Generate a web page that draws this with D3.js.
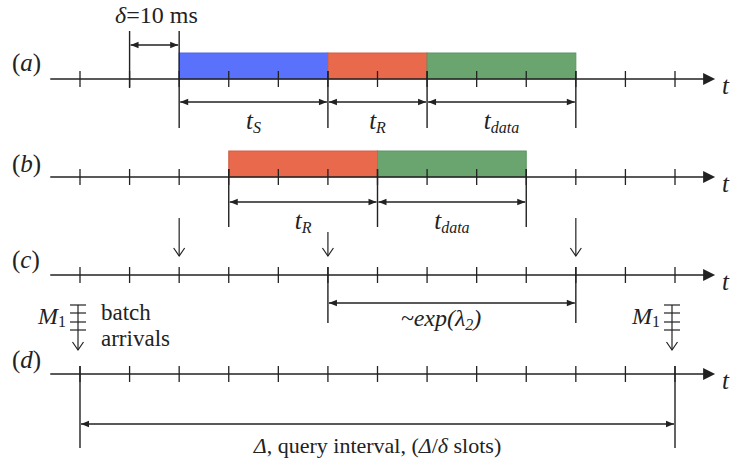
<!DOCTYPE html>
<html>
<head>
<meta charset="utf-8">
<script src="https://cdn.jsdelivr.net/npm/d3@7"></script>
<style>
  html, body { margin: 0; padding: 0; background: #fff; }
  svg { display: block; font-family: "Liberation Serif", "DejaVu Serif", serif; }
</style>
</head>
<body>
<svg id="chart" width="730" height="466"></svg>
<script>
// ---- data (in slot units of δ) ----
const slotTicks = [0, 1, 2, 3, 4, 5, 6, 7, 8, 9, 10, 11, 12];
const rows = ["a", "b", "c", "d"];
const deltaSpan = [1, 2];                 // δ = 10 ms
const phasesA = [
  { sub: "S",    from: 2, to: 5 },
  { sub: "R",    from: 5, to: 7 },
  { sub: "data", from: 7, to: 10 }
];
const phasesB = [
  { sub: "R",    from: 3, to: 6 },
  { sub: "data", from: 6, to: 9 }
];
const arrivalsC = [2, 5, 10];
const expSpan = [5, 10];
const batchSlots = [0, 12];
const querySpan = [0, 12];

// ---- styling ----
const phaseColor = { S: "#5a72fb", R: "#e8694c", data: "#6aa56f" };
const ink = "#222";
const rowY = { a: 79, b: 177, c: 275, d: 374 };
const labelY = { a: 71, b: 172, c: 268, d: 368 };

const svg = d3.select("#chart");
const x = d3.scaleLinear().domain([0, 12]).range([80, 675]);
const axisFrom = -0.6, axisTo = 12.85;

const defs = svg.append("defs");
function marker(id, orient) {
  defs.append("marker")
    .attr("id", id).attr("markerUnits", "userSpaceOnUse")
    .attr("viewBox", "0 -5 10 10").attr("refX", 10).attr("refY", 0)
    .attr("markerWidth", 9).attr("markerHeight", 8).attr("orient", orient)
    .append("path").attr("d", "M0,-4L10,0L0,4Z").attr("fill", ink);
}
marker("head", "auto");
marker("tail", "auto-start-reverse");
defs.append("marker")
  .attr("id", "axisHead").attr("markerUnits", "userSpaceOnUse")
  .attr("viewBox", "0 -6 12 12").attr("refX", 2).attr("refY", 0)
  .attr("markerWidth", 13).attr("markerHeight", 12).attr("orient", "auto")
  .append("path").attr("d", "M0,-6L12,0L0,6Z").attr("fill", ink);

function line(x1, y1, x2, y2, w) {
  return svg.append("line").attr("x1", x1).attr("y1", y1).attr("x2", x2).attr("y2", y2)
    .attr("stroke", ink).attr("stroke-width", w || 1.4);
}
function dblArrow(a, b, y) {
  line(x(a) + 1, y, x(b) - 1, y, 1.5)
    .attr("marker-start", "url(#tail)").attr("marker-end", "url(#head)");
}
function downArrow(xp, y1, y2) {
  line(xp, y1, xp, y2, 1.2);
  svg.append("path").attr("d", `M${xp - 5.5},${y2 - 8}L${xp},${y2}L${xp + 5.5},${y2 - 8}`)
    .attr("fill", "none").attr("stroke", ink).attr("stroke-width", 1.2);
}
// t with italic subscript, centered at cx
function tLabel(cx, y, sub) {
  const t = svg.append("text").attr("x", cx).attr("y", y).attr("text-anchor", "middle")
    .attr("font-size", 25).attr("font-style", "italic").attr("fill", ink);
  t.append("tspan").text("t");
  t.append("tspan").attr("font-size", 16).attr("dy", 4).text(sub);
}

// ---- bars (drawn first so axes sit on top) ----
function bars(phases, y) {
  svg.selectAll(null).data(phases).enter().append("rect")
    .attr("x", d => x(d.from)).attr("width", d => x(d.to) - x(d.from))
    .attr("y", y - 26).attr("height", 26)
    .attr("fill", d => phaseColor[d.sub])
    .attr("stroke", d => d3.color(phaseColor[d.sub]).darker(0.3)).attr("stroke-width", 1);
}
bars(phasesA, rowY.a);
bars(phasesB, rowY.b);

// ---- time axes with slot ticks ----
rows.forEach(r => {
  const y = rowY[r];
  line(x(axisFrom), y, x(axisTo) - 12, y, 1.6).attr("marker-end", "url(#axisHead)");
  svg.selectAll(null).data(slotTicks).enter().append("line")
    .attr("x1", d => x(d)).attr("x2", d => x(d))
    .attr("y1", y - 8).attr("y2", y + 8)
    .attr("stroke", ink).attr("stroke-width", 1.3);
  svg.append("text").attr("x", 722).attr("y", y + 15)
    .attr("font-size", 25).attr("font-style", "italic").attr("fill", ink).text("t");
  const lab = svg.append("text").attr("x", 12).attr("y", labelY[r])
    .attr("font-size", 25).attr("fill", ink);
  lab.append("tspan").text("(");
  lab.append("tspan").attr("font-style", "italic").text(r);
  lab.append("tspan").text(")");
});

// ---- (a): δ slot and phase durations ----
line(x(deltaSpan[0]), 31, x(deltaSpan[0]), rowY.a + 9);
line(x(deltaSpan[1]), 31, x(deltaSpan[1]), 128);
dblArrow(deltaSpan[0], deltaSpan[1], 45);
const dl = svg.append("text").attr("x", (x(deltaSpan[0]) + x(deltaSpan[1])) / 2 + 2).attr("y", 23)
  .attr("text-anchor", "middle").attr("font-size", 24).attr("fill", ink);
dl.append("tspan").attr("font-style", "italic").text("δ");
dl.append("tspan").text("=10 ms");

phasesA.forEach(p => {
  line(x(p.to), rowY.a - 8, x(p.to), 128);
  dblArrow(p.from, p.to, 102);
  tLabel((x(p.from) + x(p.to)) / 2, 129, p.sub);
});

// ---- (b) ----
line(x(phasesB[0].from), rowY.b - 8, x(phasesB[0].from), 227);
phasesB.forEach(p => {
  line(x(p.to), rowY.b - 8, x(p.to), 227);
  dblArrow(p.from, p.to, 202);
  tLabel((x(p.from) + x(p.to)) / 2, 229, p.sub);
});

// ---- (c): single arrivals and exponential gap ----
const arrowTop = { 2: 218, 5: 232, 10: 218 };
arrivalsC.forEach(s => downArrow(x(s), arrowTop[s], 256));
expSpan.forEach(s => line(x(s), rowY.c - 8, x(s), 323));
dblArrow(expSpan[0], expSpan[1], 303);
const ex = svg.append("text").attr("x", 441).attr("y", 326).attr("text-anchor", "middle")
  .attr("font-size", 24).attr("font-style", "italic").attr("fill", ink);
ex.append("tspan").text("~exp(λ");
ex.append("tspan").attr("font-size", 16).attr("dy", 4).text("2");
ex.append("tspan").attr("dy", -4).text(")");

// ---- (d): batch arrivals of M1 and the query interval ----
batchSlots.forEach(s => {
  const cx = x(s) - (s === 0 ? 2 : 3);
  [305, 313, 322, 330].forEach(yb => line(cx - 8, yb, cx + 8, yb, 1.2));
  downArrow(cx, 305, 350);
  const m = svg.append("text").attr("x", cx - 12).attr("y", 324).attr("text-anchor", "end")
    .attr("font-size", 24).attr("fill", ink);
  m.append("tspan").attr("font-style", "italic").text("M");
  m.append("tspan").attr("font-size", 16).attr("dy", 3).text("1");
});
svg.append("text").attr("x", 101).attr("y", 320).attr("font-size", 23).attr("fill", ink).text("batch");
svg.append("text").attr("x", 101).attr("y", 346).attr("font-size", 23).attr("fill", ink).text("arrivals");

querySpan.forEach(s => line(x(s), rowY.d - 8, x(s), 448));
dblArrow(querySpan[0], querySpan[1], 424);
const q = svg.append("text").attr("x", (x(querySpan[0]) + x(querySpan[1])) / 2).attr("y", 453)
  .attr("text-anchor", "middle").attr("font-size", 22).attr("fill", ink);
q.append("tspan").attr("font-style", "italic").text("Δ");
q.append("tspan").text(", query interval, (");
q.append("tspan").attr("font-style", "italic").text("Δ");
q.append("tspan").text("/");
q.append("tspan").attr("font-style", "italic").text("δ");
q.append("tspan").text(" slots)");
</script>
</body>
</html>
